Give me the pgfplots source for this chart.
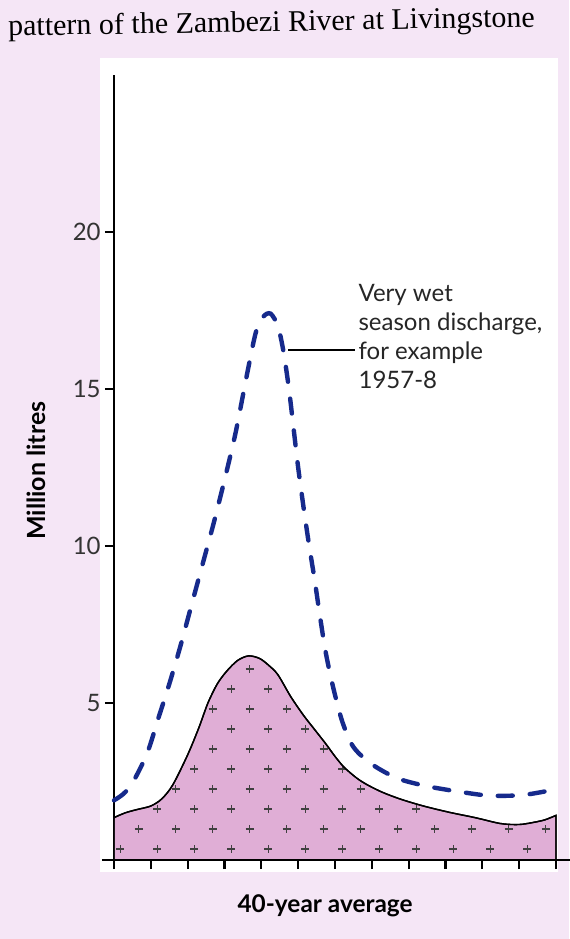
\documentclass[border=0pt]{standalone}
\usepackage{pgfplots}
\pgfplotsset{compat=1.18}
\usepackage{fontspec}
\setmainfont{Lato}
\newfontfamily\titlefont{Liberation Serif}
\usetikzlibrary{patterns}
\definecolor{pinkbg}{RGB}{245,230,246}
\definecolor{areapink}{RGB}{224,174,214}
\definecolor{wetblue}{RGB}{22,42,140}
\pgfdeclarepatternformonly{plusgrid}{\pgfpoint{-1pt}{-1pt}}{\pgfpoint{19.5pt}{21pt}}{\pgfpoint{18.5pt}{20pt}}{%
  \pgfsetlinewidth{0.6pt}%
  \pgfpathmoveto{\pgfpoint{2.6pt}{5pt}}\pgfpathlineto{\pgfpoint{6.6pt}{5pt}}%
  \pgfpathmoveto{\pgfpoint{4.6pt}{3pt}}\pgfpathlineto{\pgfpoint{4.6pt}{7pt}}%
  \pgfpathmoveto{\pgfpoint{11.85pt}{15pt}}\pgfpathlineto{\pgfpoint{15.85pt}{15pt}}%
  \pgfpathmoveto{\pgfpoint{13.85pt}{13pt}}\pgfpathlineto{\pgfpoint{13.85pt}{17pt}}%
  \pgfusepath{stroke}%
}
\begin{document}
\begin{tikzpicture}
\path[use as bounding box] (0,0) rectangle (284.5pt,469.5pt);
\fill[pinkbg] (0,0) rectangle (284.5pt,469.5pt);
\fill[white] (50pt,33.5pt) rectangle (279pt,440.5pt);
\node[anchor=base west, rotate=1, inner sep=0, font=\titlefont\fontsize{15}{17}\selectfont] at (4pt,451.5pt) {pattern of the Zambezi River at Livingstone};
\begin{axis}[
  at={(57pt,39.5pt)}, anchor=south west,
  scale only axis, width=221pt, height=392.5pt,
  xmin=0, xmax=12, ymin=0, ymax=25,
  axis x line=bottom, axis y line=left,
  axis line style={line width=1.2pt, -},
  xtick={0,1,...,12}, xticklabels={},
  ytick={5,10,15,20},
  tick align=outside,
  major tick length=4.5pt,
  tick style={line width=1.1pt, black},
  yticklabel style={font=\fontsize{12}{14}\selectfont, text=black!80, inner sep=2pt},
  /pgf/number format/assume math mode=true,
  clip=false,
]
\addplot[fill=areapink, draw=black, line width=0.7pt, smooth, tension=0.5,
  postaction={pattern=plusgrid, pattern color=black!75}] coordinates {
(0,1.35) (0.3,1.5) (0.6,1.6) (1.0,1.72) (1.3,1.95) (1.6,2.4) (2.0,3.35)
(2.3,4.2) (2.55,5.0) (2.8,5.6) (3.05,6.0) (3.35,6.35) (3.65,6.5) (3.95,6.42)
(4.2,6.2) (4.45,5.9) (4.8,5.2) (5.15,4.6) (5.45,4.15) (5.75,3.7) (6.0,3.3)
(6.25,2.95) (6.6,2.6) (6.9,2.38) (7.3,2.15) (7.8,1.93) (8.4,1.72) (9.1,1.52)
(9.8,1.35) (10.5,1.16) (11.0,1.13) (11.4,1.2) (11.7,1.28) (12,1.42)
} \closedcycle;
\addplot[smooth, tension=0.5, color=wetblue, line width=2.2pt, line cap=round, dash pattern=on 7.5pt off 8.5pt] coordinates {
(0,1.9) (0.25,2.1) (0.5,2.45) (0.9,3.4) (1.2,4.5) (1.5,5.6) (1.8,6.8) (2.1,8.1) (2.4,9.4)
(2.7,10.7) (3.0,12.1) (3.3,13.6) (3.6,15.4) (3.85,16.8) (4.05,17.3) (4.25,17.4)
(4.45,17.0) (4.6,16.2) (4.75,15.0) (4.88,13.7) (5.0,12.5) (5.15,11.2) (5.3,10.0)
(5.45,8.9) (5.6,7.7) (5.75,6.6) (5.95,5.5) (6.2,4.4) (6.5,3.6) (7.0,3.05)
(7.7,2.6) (8.5,2.35) (9.4,2.17) (10.2,2.05) (11.1,2.07) (12,2.25)
};
\draw[line width=1.2pt] (axis cs:-0.33,0) -- (axis cs:12.4,0);
\draw[line width=0.7pt] (axis cs:4.73,16.24) -- (axis cs:6.55,16.24);
\node[anchor=north west, align=left, inner sep=0, font=\fontsize{12}{14.5}\selectfont, text=black!85] at (axis cs:6.63,18.35) {Very wet\\season discharge,\\for example\\1957-8};
\node[rotate=90, font=\bfseries\fontsize{12.5}{14}\selectfont] at (axis cs:-2.1,12.4) {Million litres};
\node[font=\bfseries\fontsize{12.2}{14}\selectfont] at (axis cs:5.73,-1.45) {40-year average};
\end{axis}
\end{tikzpicture}
\end{document}
